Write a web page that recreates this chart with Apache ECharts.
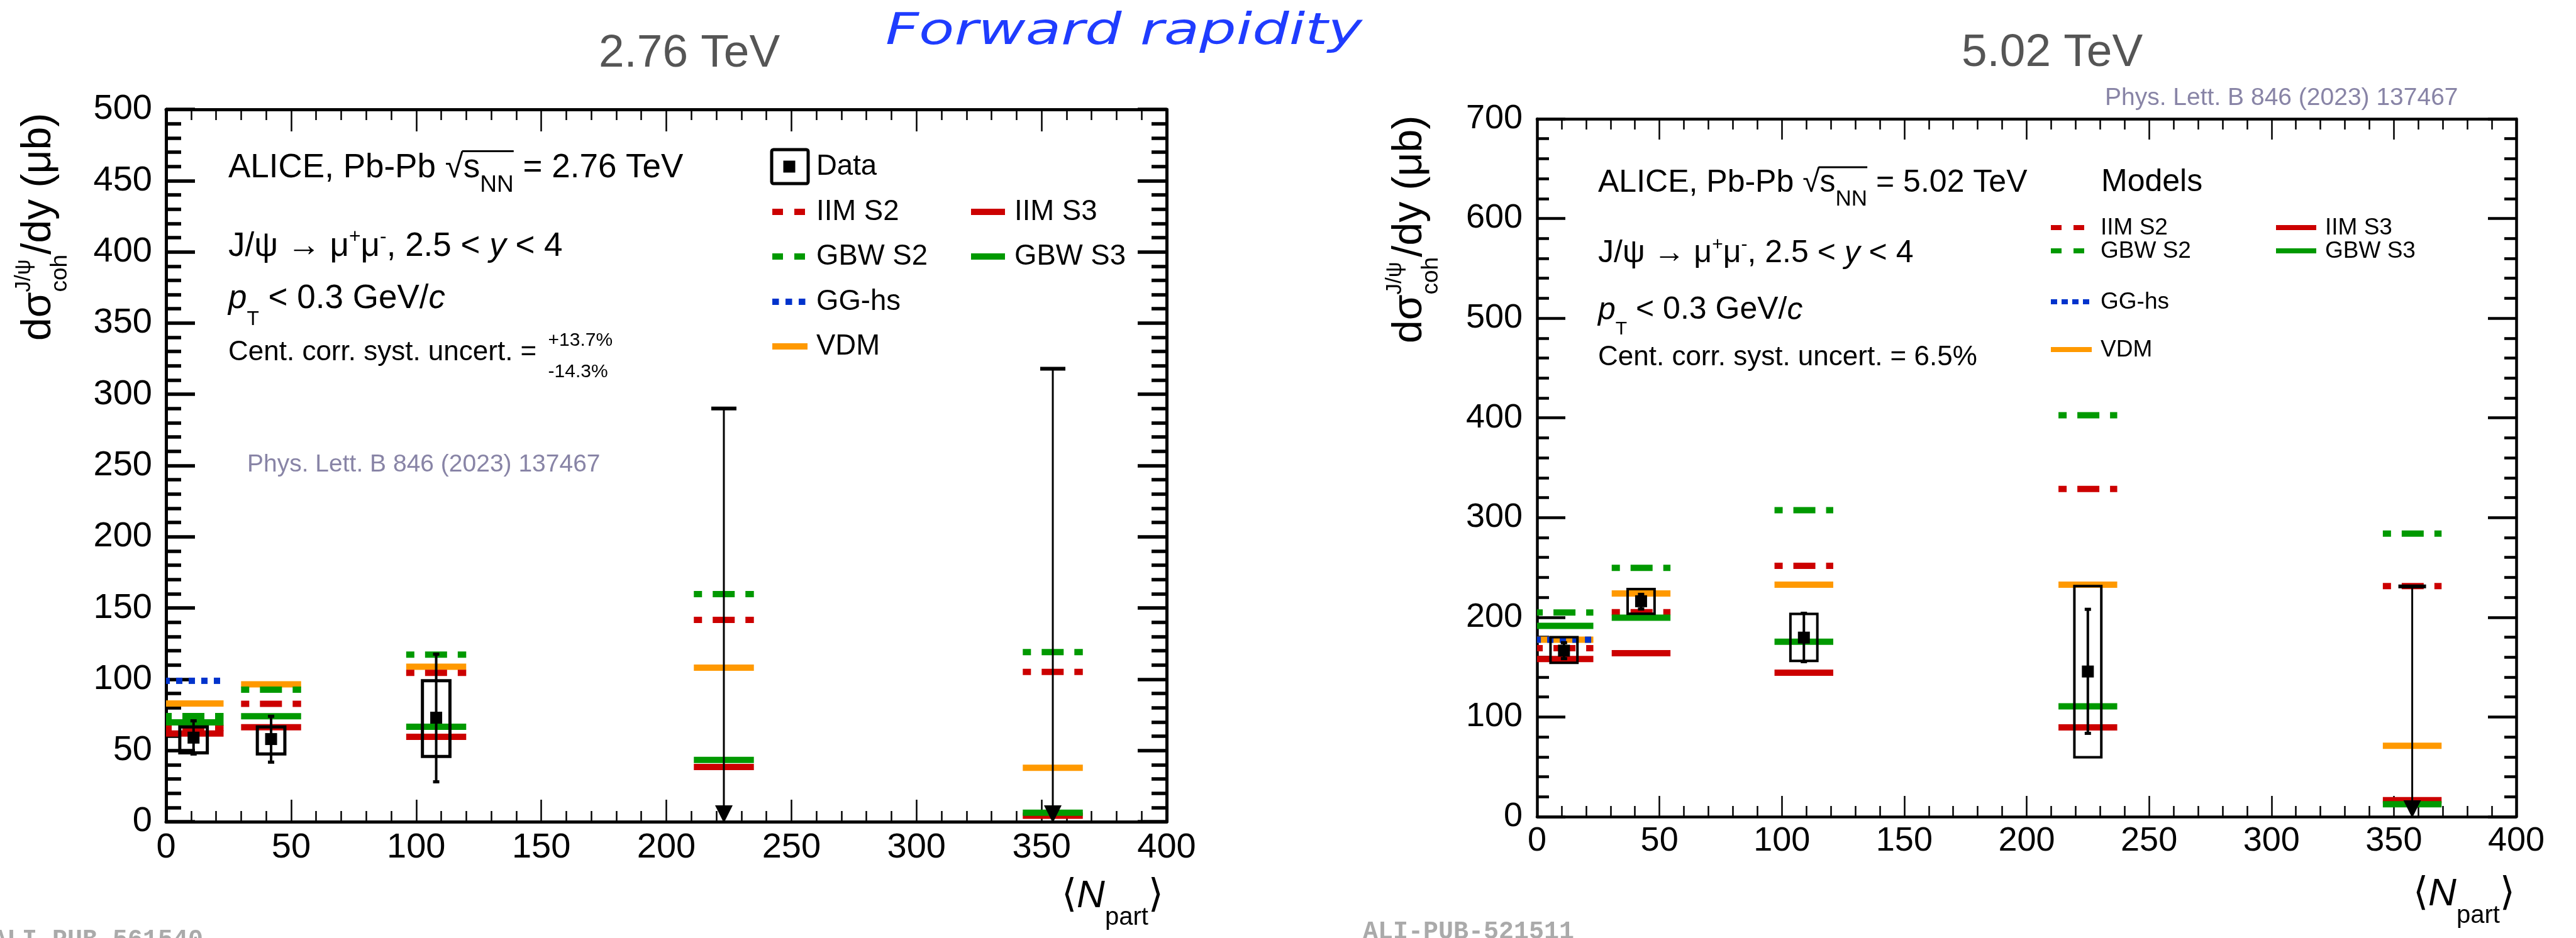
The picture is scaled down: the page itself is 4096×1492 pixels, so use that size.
<!DOCTYPE html>
<html>
<head>
<meta charset="utf-8">
<script src="https://cdn.jsdelivr.net/npm/echarts@6/dist/echarts.min.js"></script>
<style>
html, body { margin: 0; padding: 0; background: #fff; }
#chart { width: 4096px; height: 1492px; }
</style>
</head>
<body>
<div id="chart"></div>
<script>
// ---------- 2.76 TeV measurement ----------
const npart276 = [11, 42, 108];
const sigma276 = [59, 58, 73];
const stat276Lo = [47.5, 41.8, 28];
const stat276Hi = [70.8, 74, 117.6];
const syst276Lo = [48.3, 47.5, 45.8];
const syst276Hi = [66.5, 66.5, 99];
const limitNpart276 = [223, 354.5];
const limit276 = [290, 318];

// ---------- 2.76 TeV models ----------
const modelNpart276 = [11, 42, 108, 223, 354.5];
const iimS2_276 = [65.8, 82.7, 104.5, 141.7, 105.1];
const iimS3_276 = [61.9, 66.3, 59.6, 38.4, 4.2];
const gbwS2_276 = [74.1, 92.7, 117.3, 159.8, 119];
const gbwS3_276 = [69.7, 74, 66.6, 43.4, 6.3];
const gghs_276 = [98.9];
const vdm_276 = [83.0, 96.4, 108.8, 108.1, 37.8];

// ---------- 5.02 TeV measurement ----------
const npart502 = [11, 42.5, 109, 225];
const sigma502 = [166.5, 216.1, 179.6, 145.6];
const stat502Lo = [158.5, 208.3, 155.5, 83.6];
const stat502Hi = [174.5, 223, 204, 208];
const syst502Lo = [154.3, 203.6, 156.3, 59.6];
const syst502Hi = [180.1, 228.3, 203.3, 231.3];
const limitNpart502 = [357.5];
const limit502 = [231];

// ---------- 5.02 TeV models ----------
const modelNpart502 = [11, 42.5, 109, 225, 357.5];
const iimS2_502 = [169, 205.1, 251.6, 328.7, 231.3];
const iimS3_502 = [158.2, 163.9, 144.4, 89.6, 16.5];
const gbwS2_502 = [204.8, 249.5, 307.5, 402.6, 284];
const gbwS3_502 = [191.4, 199.6, 175.4, 110.6, 12.5];
const gghs_502 = [177.5];
const vdm_502 = [177.5, 223.8, 232.7, 232.7, 71.1];

// ---------- styling ----------
const FONT = '"Liberation Sans", Arial, Helvetica, sans-serif';
const SYM = '"DejaVu Sans", sans-serif';
const RED = '#cc0000', GREEN = '#009900', BLUE = '#0033cc', ORANGE = '#ff9900';
const DASH = [35, 17], DASH_OFF = 22;
const DOT = [10, 10];
const BAND_HALF = 12;   // half width of a model band in <Npart> units
const BOX_HALF = 5.5;   // half width of a systematic box

const mctx = document.createElement('canvas').getContext('2d');
function textWidth(t, size, italic, family) {
  mctx.font = (italic ? 'italic ' : '') + size + 'px ' + (family || FONT);
  return mctx.measureText(t).width;
}

// Lays out text fragments on one baseline; a fragment with "stack" puts
// several pieces at the same x (super/subscript pairs).
function runText(x0, baseY, frags, color) {
  const els = [], starts = [];
  let x = x0;
  for (const f of frags) {
    const items = f.stack ? f.stack : [f];
    let adv = 0;
    starts.push(x);
    for (const g of items) {
      const size = g.size, dy = g.dy || 0;
      els.push({
        type: 'text', silent: true,
        x: x, y: baseY + dy - 0.3465 * size,
        style: {
          text: g.t, fontSize: size, fontFamily: g.family || FONT,
          fontStyle: g.italic ? 'italic' : 'normal', fill: g.color || color || '#000',
          align: 'left', verticalAlign: 'middle'
        }
      });
      adv = Math.max(adv, textWidth(g.t, size, g.italic, g.family));
    }
    x += adv + (f.gap || 0);
  }
  starts.push(x);
  return { els, starts, end: x };
}

function hline(x1, x2, y, color, width, dash, off) {
  return {
    type: 'line', silent: true,
    shape: { x1, y1: y, x2, y2: y },
    style: { stroke: color, lineWidth: width, lineDash: dash || null, lineDashOffset: off || 0 }
  };
}

// ---------- axes ----------
function valueAxis(gridIndex, position, max, interval, o) {
  return {
    type: 'value', gridIndex, position, min: 0, max, interval,
    axisLine: { show: true, onZero: false, lineStyle: { color: '#000', width: o.line } },
    axisTick: { show: true, inside: true, length: o.tick, lineStyle: { color: '#000', width: o.tw } },
    minorTick: { show: true, splitNumber: 5, length: o.minor, lineStyle: { color: '#000', width: o.tw } },
    splitLine: { show: false }, minorSplitLine: { show: false },
    axisLabel: { show: !!o.label, fontSize: o.label || 10, fontFamily: FONT, color: '#000', margin: o.margin || 8 }
  };
}

const xL = { line: 5, tick: 35, minor: 17, tw: 2.5 };
const yL = { line: 5, tick: 46, minor: 24, tw: 5.5 };
const xR = { line: 4.5, tick: 33, minor: 17, tw: 2.5 };
const yR = { line: 4.5, tick: 45, minor: 19, tw: 4.5 };

const xAxes = [
  valueAxis(0, 'bottom', 400, 50, Object.assign({ label: 56, margin: 14 }, xL)),
  valueAxis(0, 'top', 400, 50, xL),
  valueAxis(1, 'bottom', 400, 50, Object.assign({ label: 54, margin: 12 }, xR)),
  valueAxis(1, 'top', 400, 50, xR)
];
const yAxes = [
  valueAxis(0, 'left', 500, 50, Object.assign({ label: 56, margin: 22 }, yL)),
  valueAxis(0, 'right', 500, 50, yL),
  valueAxis(1, 'left', 700, 100, Object.assign({ label: 54, margin: 23 }, yR)),
  valueAxis(1, 'right', 700, 100, yR)
];

// ---------- series ----------
function modelSeries(name, xs, ys, color, dash, off, axis) {
  return {
    type: 'custom', name, xAxisIndex: axis, yAxisIndex: axis, clip: true, z: 2,
    data: ys.map((v, i) => [xs[i], v]),
    renderItem(params, api) {
      const x = api.value(0), v = api.value(1);
      const a = api.coord([x - BAND_HALF, v]), b = api.coord([x + BAND_HALF, v]);
      return {
        type: 'line',
        shape: { x1: a[0], y1: a[1], x2: b[0], y2: b[1] },
        style: { stroke: color, lineWidth: 10, lineDash: dash, lineDashOffset: off, lineCap: 'butt' }
      };
    }
  };
}

function dataSeries(xs, ys, sLo, sHi, bLo, bHi, axis, boxWidth) {
  return {
    type: 'custom', name: 'Data', xAxisIndex: axis, yAxisIndex: axis, z: 6,
    data: xs.map((x, i) => [x, ys[i], sLo[i], sHi[i], bLo[i], bHi[i]]),
    renderItem(params, api) {
      const x = api.value(0);
      const c = api.coord([x, api.value(1)]);
      const lo = api.coord([x, api.value(2)]), hi = api.coord([x, api.value(3)]);
      const b0 = api.coord([x - BOX_HALF, api.value(4)]), b1 = api.coord([x + BOX_HALF, api.value(5)]);
      return {
        type: 'group',
        children: [
          { type: 'rect', shape: { x: b0[0], y: b1[1], width: b1[0] - b0[0], height: b0[1] - b1[1] },
            style: { fill: 'none', stroke: '#000', lineWidth: boxWidth } },
          { type: 'line', shape: { x1: c[0], y1: lo[1], x2: c[0], y2: hi[1] }, style: { stroke: '#000', lineWidth: 4 } },
          { type: 'line', shape: { x1: c[0] - 5, y1: lo[1], x2: c[0] + 5, y2: lo[1] }, style: { stroke: '#000', lineWidth: 5 } },
          { type: 'line', shape: { x1: c[0] - 5, y1: hi[1], x2: c[0] + 5, y2: hi[1] }, style: { stroke: '#000', lineWidth: 5 } },
          { type: 'rect', shape: { x: c[0] - 9.5, y: c[1] - 9.5, width: 19, height: 19 }, style: { fill: '#000' } }
        ]
      };
    }
  };
}

function limitSeries(xs, tops, axis, capHalf) {
  return {
    type: 'custom', name: 'Data', xAxisIndex: axis, yAxisIndex: axis, z: 6,
    data: xs.map((x, i) => [x, tops[i]]),
    renderItem(params, api) {
      const x = api.value(0);
      const top = api.coord([x, api.value(1)]), zero = api.coord([x, 0]);
      return {
        type: 'group',
        children: [
          { type: 'line', shape: { x1: top[0], y1: top[1], x2: zero[0], y2: zero[1] - 20 }, style: { stroke: '#000', lineWidth: 3 } },
          { type: 'line', shape: { x1: top[0] - capHalf, y1: top[1], x2: top[0] + capHalf, y2: top[1] }, style: { stroke: '#000', lineWidth: 6 } },
          { type: 'polygon', shape: { points: [[zero[0] - 14, zero[1] - 26], [zero[0] + 14, zero[1] - 26], [zero[0], zero[1] + 2]] },
            style: { fill: '#000' } }
        ]
      };
    }
  };
}

const series = [
  modelSeries('VDM', modelNpart276, vdm_276, ORANGE, null, 0, 0),
  modelSeries('IIM S2', modelNpart276, iimS2_276, RED, DASH, DASH_OFF, 0),
  modelSeries('IIM S3', modelNpart276, iimS3_276, RED, null, 0, 0),
  modelSeries('GBW S2', modelNpart276, gbwS2_276, GREEN, DASH, DASH_OFF, 0),
  modelSeries('GBW S3', modelNpart276, gbwS3_276, GREEN, null, 0, 0),
  modelSeries('GG-hs', modelNpart276, gghs_276, BLUE, DOT, 0, 0),
  dataSeries(npart276, sigma276, stat276Lo, stat276Hi, syst276Lo, syst276Hi, 0, 5),
  limitSeries(limitNpart276, limit276, 0, 20),

  modelSeries('VDM', modelNpart502, vdm_502, ORANGE, null, 0, 2),
  modelSeries('IIM S2', modelNpart502, iimS2_502, RED, DASH, DASH_OFF, 2),
  modelSeries('IIM S3', modelNpart502, iimS3_502, RED, null, 0, 2),
  modelSeries('GBW S2', modelNpart502, gbwS2_502, GREEN, DASH, DASH_OFF, 2),
  modelSeries('GBW S3', modelNpart502, gbwS3_502, GREEN, null, 0, 2),
  modelSeries('GG-hs', modelNpart502, gghs_502, BLUE, DOT, 0, 2),
  dataSeries(npart502, sigma502, stat502Lo, stat502Hi, syst502Lo, syst502Hi, 2, 4),
  limitSeries(limitNpart502, limit502, 2, 22)
];

// ---------- annotations ----------
const G = [];

// panel titles
G.push({ type: 'text', silent: true, x: 1096, y: 111 - 0.3465 * 73,
  style: { text: '2.76 TeV', fontSize: 73, fontFamily: FONT, fill: '#555', align: 'center', verticalAlign: 'middle' } });
G.push({ type: 'text', silent: true, x: 3263, y: 110 - 0.3465 * 73,
  style: { text: '5.02 TeV', fontSize: 73, fontFamily: FONT, fill: '#555', align: 'center', verticalAlign: 'middle' } });
(function () {
  const size = 70, w = textWidth('Forward rapidity', size, true, SYM);
  G.push({ type: 'text', silent: true, x: 1408, y: 76 - 0.3465 * size, scaleX: 758 / w,
    style: { text: 'Forward rapidity', fontSize: size, fontFamily: SYM, fontStyle: 'italic', fill: '#1f3cff', align: 'left', verticalAlign: 'middle' } });
})();

// collaboration text block
function aliceBlock(x, S, base1, base2, base3, energy) {
  const l1 = runText(x, base1, [
    { t: 'ALICE, Pb-Pb ', size: S },
    { t: '\u221A', size: S },
    { t: 's', size: S },
    { t: 'NN', size: 0.7 * S, dy: 0.4 * S },
    { t: ' = ' + energy + ' TeV', size: S }
  ]);
  G.push(...l1.els);
  G.push({ type: 'line', silent: true, shape: { x1: l1.starts[2] - 2, y1: base1 - 0.86 * S, x2: l1.starts[4], y2: base1 - 0.86 * S },
    style: { stroke: '#000', lineWidth: 3 } });
  G.push(...runText(x, base2, [
    { t: 'J/\u03C8 \u2192 \u03BC', size: S },
    { t: '+', size: 0.6 * S, dy: -0.42 * S },
    { t: '\u03BC', size: S },
    { t: '-', size: 0.6 * S, dy: -0.42 * S },
    { t: ', 2.5 < ', size: S },
    { t: 'y', size: S, italic: true },
    { t: ' < 4', size: S }
  ]).els);
  G.push(...runText(x, base3, [
    { t: 'p', size: S, italic: true },
    { t: 'T', size: 0.6 * S, dy: 0.47 * S },
    { t: ' < 0.3 GeV/', size: S },
    { t: 'c', size: S, italic: true }
  ]).els);
}
aliceBlock(363, 53, 286, 411, 494, '2.76');
G.push(...runText(363, 576, [
  { t: 'Cent. corr. syst. uncert. = ', size: 44, gap: 6 },
  { stack: [{ t: '+13.7%', size: 30, dy: -24 }, { t: '-14.3%', size: 30, dy: 26 }] }
]).els);

aliceBlock(2541, 50, 309, 421, 511, '5.02');
G.push(...runText(2541, 584, [{ t: 'Cent. corr. syst. uncert. = 6.5%', size: 44 }]).els);

// publication references
G.push(...runText(393, 753, [{ t: 'Phys. Lett. B 846 (2023) 137467', size: 39, color: '#8884a6' }]).els);
G.push(...runText(3347, 170, [{ t: 'Phys. Lett. B 846 (2023) 137467', size: 39, color: '#8884a6' }]).els);

// figure ids along the lower edge
G.push({ type: 'text', silent: true, x: 323, y: 1510 - 0.3465 * 40,
  style: { text: 'ALI-PUB-561540', fontSize: 40, fontFamily: '"Liberation Mono", monospace', fontWeight: 'bold', fill: '#aaa', align: 'right', verticalAlign: 'middle' } });
G.push({ type: 'text', silent: true, x: 2167, y: 1497 - 0.3465 * 40,
  style: { text: 'ALI-PUB-521511', fontSize: 40, fontFamily: '"Liberation Mono", monospace', fontWeight: 'bold', fill: '#aaa', align: 'left', verticalAlign: 'middle' } });

// left legend
G.push({ type: 'rect', silent: true, shape: { x: 1227, y: 238, width: 58, height: 54, r: 3 }, style: { fill: 'none', stroke: '#000', lineWidth: 5 } });
G.push({ type: 'rect', silent: true, shape: { x: 1245.5, y: 255.5, width: 19, height: 19 }, style: { fill: '#000' } });
const LS = 45.5, LB = 0.358 * LS;
G.push(...runText(1298, 265 + LB, [{ t: 'Data', size: LS }]).els);
G.push(hline(1228, 1281, 337, RED, 10, [17, 18]));
G.push(...runText(1298, 337 + LB, [{ t: 'IIM S2', size: LS }]).els);
G.push(hline(1544, 1598, 337, RED, 10));
G.push(...runText(1613, 337 + LB, [{ t: 'IIM S3', size: LS }]).els);
G.push(hline(1228, 1281, 408, GREEN, 10, [17, 18]));
G.push(...runText(1298, 408 + LB, [{ t: 'GBW S2', size: LS }]).els);
G.push(hline(1544, 1598, 408, GREEN, 10));
G.push(...runText(1613, 408 + LB, [{ t: 'GBW S3', size: LS }]).els);
G.push(hline(1228, 1281, 480, BLUE, 10, [10.5, 10.5]));
G.push(...runText(1298, 480 + LB, [{ t: 'GG-hs', size: LS }]).els);
G.push(hline(1228, 1284, 551, ORANGE, 10));
G.push(...runText(1298, 551 + LB, [{ t: 'VDM', size: LS }]).els);

// right legend
const RS = 37, RB = 0.358 * RS;
G.push(...runText(3341, 308, [{ t: 'Models', size: 50 }]).els);
G.push(hline(3261, 3314, 362, RED, 8, [17, 19]));
G.push(...runText(3340, 362 + RB, [{ t: 'IIM S2', size: RS }]).els);
G.push(hline(3619, 3683, 362, RED, 8));
G.push(...runText(3697, 362 + RB, [{ t: 'IIM S3', size: RS }]).els);
G.push(hline(3261, 3314, 399, GREEN, 8, [17, 19]));
G.push(...runText(3340, 399 + RB, [{ t: 'GBW S2', size: RS }]).els);
G.push(hline(3619, 3683, 399, GREEN, 8));
G.push(...runText(3697, 399 + RB, [{ t: 'GBW S3', size: RS }]).els);
G.push(hline(3261, 3327, 480, BLUE, 8, [10, 7]));
G.push(...runText(3340, 480 + RB, [{ t: 'GG-hs', size: RS }]).els);
G.push(hline(3261, 3326, 556, ORANGE, 8));
G.push(...runText(3340, 556 + RB, [{ t: 'VDM', size: RS }]).els);

// rotated y-axis titles
function yTitle(x, y) {
  const r = runText(0, 0, [
    { t: 'd\u03C3', size: 66 },
    { stack: [{ t: 'J/\u03C8', size: 35, dy: -35 }, { t: 'coh', size: 37, dy: 24 }] },
    { t: '/dy (\u03BCb)', size: 66 }
  ]);
  G.push({ type: 'group', x, y, rotation: Math.PI / 2, silent: true, children: r.els });
}
yTitle(85, 542);
yTitle(2265, 546);

// x-axis titles, right aligned to the frame
function xTitle(right, base) {
  const frags = [
    { t: '\u27E8', size: 62, family: SYM },
    { t: 'N', size: 62, italic: true },
    { t: 'part', size: 40, dy: 27 },
    { t: '\u27E9', size: 62, family: SYM }
  ];
  const probe = runText(0, 0, frags);
  G.push(...runText(right - probe.end, base, frags).els);
}
xTitle(1850, 1447);
xTitle(3999, 1444);

const option = {
  animation: false,
  backgroundColor: '#fff',
  grid: [
    { left: 264, top: 174, width: 1591, height: 1133 },
    { left: 2444, top: 189, width: 1557, height: 1110 }
  ],
  xAxis: xAxes,
  yAxis: yAxes,
  series,
  graphic: { elements: G }
};

const chart = echarts.init(document.getElementById('chart'), null, { renderer: 'canvas', width: 4096, height: 1492 });
chart.setOption(option);
</script>
</body>
</html>
